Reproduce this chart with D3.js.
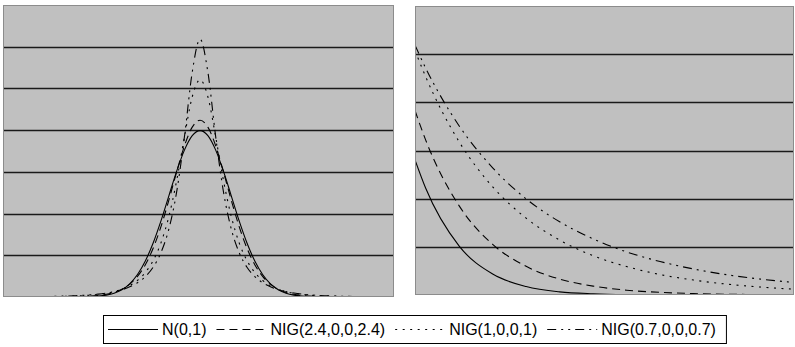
<!DOCTYPE html>
<html>
<head>
<meta charset="utf-8">
<script src="https://cdn.jsdelivr.net/npm/d3@7"></script>
<style>
  body { margin: 0; background: #fff; }
  svg { display: block; font-family: "Liberation Sans", Arial, sans-serif; }
</style>
</head>
<body>
<figure id="chart" style="margin:0"></figure>
<script>
// density, full range
const densX = [-6,-5.75,-5.5,-5.25,-5,-4.75,-4.5,-4.25,-4,-3.75,-3.5,-3.25,-3,-2.75,-2.5,-2.25,-2,-1.75,-1.5,-1.25,-1,-0.75,-0.5,-0.25,
  0,0.25,0.5,0.75,1,1.25,1.5,1.75,2,2.25,2.5,2.75,3,3.25,3.5,3.75,4,4.25,4.5,4.75,5,5.25,5.5,5.75,6];
const densN = [0,0,0,0,0,0,0,0,0.0001,0.0004,0.0009,0.0020,0.0044,0.0091,0.0175,0.0317,0.0540,0.0863,0.1295,0.1826,0.2420,0.3011,0.3521,0.3867,
  0.3989,0.3867,0.3521,0.3011,0.2420,0.1826,0.1295,0.0863,0.0540,0.0317,0.0175,0.0091,0.0044,0.0020,0.0009,0.0004,0.0001,0,0,0,0,0,0,0,0];
const densNIG24 = [0,0,0,0,0.0001,0.0001,0.0002,0.0004,0.0007,0.0012,0.0021,0.0037,0.0064,0.0110,0.0186,0.0307,0.0495,0.0775,0.1168,0.1687,0.2315,0.2994,0.3623,0.4073,
  0.4238,0.4073,0.3623,0.2994,0.2315,0.1687,0.1168,0.0775,0.0495,0.0307,0.0186,0.0110,0.0064,0.0037,0.0021,0.0012,0.0007,0.0004,0.0002,0.0001,0.0001,0,0,0,0];
const densNIG1 = [0.0002,0.0002,0.0003,0.0004,0.0006,0.0009,0.0012,0.0016,0.0023,0.0032,0.0045,0.0064,0.0091,0.0129,0.0188,0.0272,0.0399,0.0588,0.0873,0.1299,0.1923,0.2785,0.3835,0.4800,
  0.5208,0.4800,0.3835,0.2785,0.1923,0.1299,0.0873,0.0588,0.0399,0.0272,0.0188,0.0129,0.0091,0.0064,0.0045,0.0032,0.0023,0.0016,0.0012,0.0009,0.0006,0.0004,0.0003,0.0002,0.0002];
const densNIG07 = [0.0004,0.0005,0.0007,0.0008,0.0011,0.0014,0.0018,0.0023,0.0030,0.0040,0.0053,0.0070,0.0094,0.0128,0.0175,0.0243,0.0342,0.0490,0.0714,0.1065,0.1624,0.2512,0.3837,0.5390,
  0.6181,0.5390,0.3837,0.2512,0.1624,0.1065,0.0714,0.0490,0.0342,0.0243,0.0175,0.0128,0.0094,0.0070,0.0053,0.0040,0.0030,0.0023,0.0018,0.0014,0.0011,0.0008,0.0007,0.0005,0.0004];

// right tail
const tailX = [2.92,3,3.25,3.5,3.75,4,4.25,4.5,4.75,5,5.25,5.5,5.75];
const tailN = [0.00561,0.00443,0.00203,0.00087,0.00035,0.00013,0.00005,0.000016,0.000005,0.0000015,0.0000004,0.0000001,0];
const tailNIG24 = [0.00766,0.00643,0.00370,0.00210,0.00119,0.00066,0.00037,0.00020,0.00011,0.00006,0.00003,0.00002,0.00001];
const tailNIG1 = [0.01015,0.00906,0.00636,0.00449,0.00319,0.00228,0.00163,0.00118,0.00085,0.00062,0.00045,0.00033,0.00024];
const tailNIG07 = [0.01037,0.00942,0.00702,0.00528,0.00399,0.00304,0.00233,0.00179,0.00139,0.00108,0.00084,0.00066,0.00052];

const seriesNames = ["N(0,1)", "NIG(2.4,0,0,2.4)", "NIG(1,0,0,1)", "NIG(0.7,0,0,0.7)"];
const dashes = [null, "8,5", "2,5.5", "9,5,2,5,2,5"];

const width = 795, height = 347;

const svg = d3.select("figure#chart")
  .append("svg")
  .attr("width", width)
  .attr("height", height);

function drawPanel(id, box, xDomain, yDomain, yStep, xs, series) {
  const x = d3.scaleLinear().domain(xDomain).range([box.x0, box.x1]);
  const y = d3.scaleLinear().domain(yDomain).range([box.y1, box.y0]);

  svg.append("clipPath").attr("id", id)
    .append("rect")
    .attr("x", box.x0).attr("y", box.y0)
    .attr("width", box.x1 - box.x0).attr("height", box.y1 - box.y0);

  svg.append("rect")
    .attr("x", box.x0).attr("y", box.y0)
    .attr("width", box.x1 - box.x0).attr("height", box.y1 - box.y0)
    .attr("fill", "#c0c0c0");

  // horizontal gridlines
  const ticks = d3.range(yStep, yDomain[1] - yStep / 2, yStep);
  svg.append("g")
    .selectAll("line")
    .data(ticks)
    .enter()
    .append("line")
    .attr("x1", box.x0).attr("x2", box.x1)
    .attr("y1", d => Math.round(y(d)) + 0.5)
    .attr("y2", d => Math.round(y(d)) + 0.5)
    .attr("stroke", "#1a1a1a")
    .attr("stroke-width", 1.4);

  const line = d3.line()
    .x((d, i) => x(xs[i]))
    .y(d => y(d))
    .curve(d3.curveMonotoneX);

  svg.append("g")
    .attr("clip-path", "url(#" + id + ")")
    .selectAll("path")
    .data(series)
    .enter()
    .append("path")
    .attr("d", d => line(d))
    .attr("fill", "none")
    .attr("stroke", "#000")
    .attr("stroke-width", 1.1)
    .attr("stroke-dasharray", (d, i) => dashes[i]);

  svg.append("rect")
    .attr("x", box.x0 + 0.5).attr("y", box.y0 + 0.5)
    .attr("width", box.x1 - box.x0 - 1).attr("height", box.y1 - box.y0 - 1)
    .attr("fill", "none")
    .attr("stroke", "#8c8c8c");
}

drawPanel("clipL", {x0: 3, x1: 394, y0: 5, y1: 297}, [-6.3, 6.2], [0, 0.7], 0.1,
  densX, [densN, densNIG24, densNIG1, densNIG07]);
drawPanel("clipR", {x0: 415, x1: 794, y0: 6, y1: 295}, [2.92, 5.75], [0, 0.012], 0.002,
  tailX, [tailN, tailNIG24, tailNIG1, tailNIG07]);

// legend
const legend = svg.append("g");
const legY = 329;
let cx = 108;
seriesNames.forEach((name, i) => {
  legend.append("line")
    .attr("x1", cx).attr("x2", cx + 50)
    .attr("y1", legY + 0.5).attr("y2", legY + 0.5)
    .attr("stroke", "#000")
    .attr("stroke-dasharray", dashes[i]);
  const t = legend.append("text")
    .attr("x", cx + 54).attr("y", legY + 6)
    .attr("font-size", 16)
    .attr("fill", "#000")
    .text(name);
  cx += 54 + t.node().getComputedTextLength() + 10;
});
legend.insert("rect", ":first-child")
  .attr("x", 103.5).attr("y", 315.5)
  .attr("width", cx - 103).attr("height", 28)
  .attr("fill", "#fff")
  .attr("stroke", "#000");
</script>
</body>
</html>
